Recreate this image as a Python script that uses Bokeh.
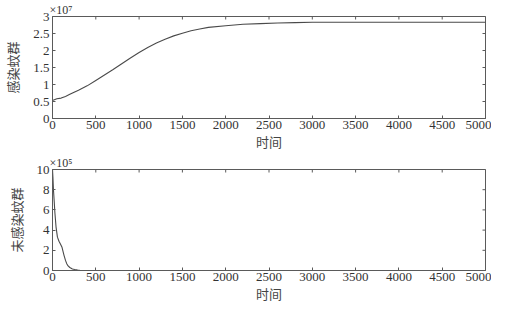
import math
from bokeh.plotting import figure
from bokeh.layouts import column
from bokeh.models import Range1d, FixedTicker, NumeralTickFormatter
from bokeh.embed import file_html
from bokeh.resources import INLINE

# ---- data ----
t_inf = [0, 50, 100, 150, 200, 250, 300, 400, 500, 600, 700, 800, 900, 1000,
         1100, 1200, 1300, 1400, 1500, 1600, 1700, 1800, 2000, 2200, 2400,
         2600, 2800, 3000, 3500, 4000, 4500, 5000]
infected_1e7 = [0.53, 0.58, 0.60, 0.65, 0.71, 0.77, 0.83, 0.96, 1.12, 1.28,
                1.44, 1.61, 1.78, 1.94, 2.09, 2.22, 2.33, 2.43, 2.51, 2.58,
                2.63, 2.68, 2.73, 2.77, 2.79, 2.81, 2.82, 2.83, 2.83, 2.83,
                2.83, 2.83]

t_un = [0, 5, 11, 20, 27, 41, 57, 75, 87, 110, 133, 150, 163, 180, 200, 230,
        257, 290, 314, 350, 400, 500, 1000, 5000]
uninfected_1e5 = [10, 9.2, 8.0, 6.8, 5.8, 4.3, 3.3, 2.9, 2.7, 2.3, 1.5, 1.0,
                  0.7, 0.45, 0.3, 0.15, 0.1, 0.04, 0.01, 0, 0, 0, 0, 0]

x_ticks = list(range(0, 5001, 500))
top_ticks = [0, 0.5, 1, 1.5, 2, 2.5, 3]
bot_ticks = [0, 2, 4, 6, 8, 10]

xlabel = "时间"
ylabel_top = "感染蚊群"
ylabel_bot = "未感染蚊群"
exp_top = "×10⁷"
exp_bot = "×10⁵"

NUM_FONT = "Liberation Serif"
CJK_FONT = "Noto Sans CJK SC"
TXT = "#333333"
AX = "#5a5a5a"
LINE = "#4a4a4a"


def make_fig(height, top_border, yr, yticks, ylabel, exp):
    p = figure(width=491, height=height, output_backend="svg",
               toolbar_location=None, x_range=Range1d(0, 5000),
               y_range=yr, min_border_left=44, min_border_right=6,
               min_border_top=top_border, min_border_bottom=32,
               title=exp)
    p.title.align = "left"
    p.title.offset = -3
    p.title.standoff = 0
    p.title.text_font = NUM_FONT
    p.title.text_font_size = "12px"
    p.title.text_font_style = "normal"
    p.title.text_color = TXT
    p.grid.visible = False
    p.outline_line_color = AX
    p.outline_line_alpha = 1
    for ax in (p.xaxis[0], p.yaxis[0]):
        ax.axis_line_color = AX
        ax.major_tick_line_color = AX
        ax.major_tick_in = 3
        ax.major_tick_out = 0
        ax.minor_tick_line_color = None
        ax.major_label_text_font = NUM_FONT
        ax.major_label_text_font_size = "13px"
        ax.major_label_text_color = TXT
        ax.axis_label_text_font = CJK_FONT
        ax.axis_label_text_font_size = "13px"
        ax.axis_label_text_font_style = "normal"
        ax.axis_label_text_color = "#444444"
        ax.major_label_standoff = 3
    p.xaxis[0].ticker = FixedTicker(ticks=x_ticks)
    p.xaxis[0].major_label_standoff = 2
    p.yaxis[0].ticker = FixedTicker(ticks=yticks)
    p.yaxis[0].formatter = NumeralTickFormatter(format="0.[0]")
    p.xaxis[0].axis_label = xlabel
    p.xaxis[0].axis_label_standoff = 0
    p.yaxis[0].axis_label = ylabel
    p.yaxis[0].axis_label_standoff = 8
    # mirror ticks on top and right edges (half of each dash is clipped by the frame)
    p.scatter(x_ticks, [yr.end] * len(x_ticks), marker="dash", size=6,
              angle=math.pi / 2, line_color=AX, line_width=1)
    p.scatter([5000] * len(yticks), yticks, marker="dash", size=6,
              line_color=AX, line_width=1)
    return p


p1 = make_fig(153, 15, Range1d(0, 3), top_ticks, ylabel_top, exp_top)
p1.line(t_inf, infected_1e7, line_color=LINE, line_width=1.1)

p2 = make_fig(152, 12, Range1d(0, 10), bot_ticks, ylabel_bot, exp_bot)
p2.line(t_un, uninfected_1e5, line_color=LINE, line_width=1.1)

layout = column(p1, p2, spacing=0)
open("out.html", "w").write(file_html(layout, INLINE))
